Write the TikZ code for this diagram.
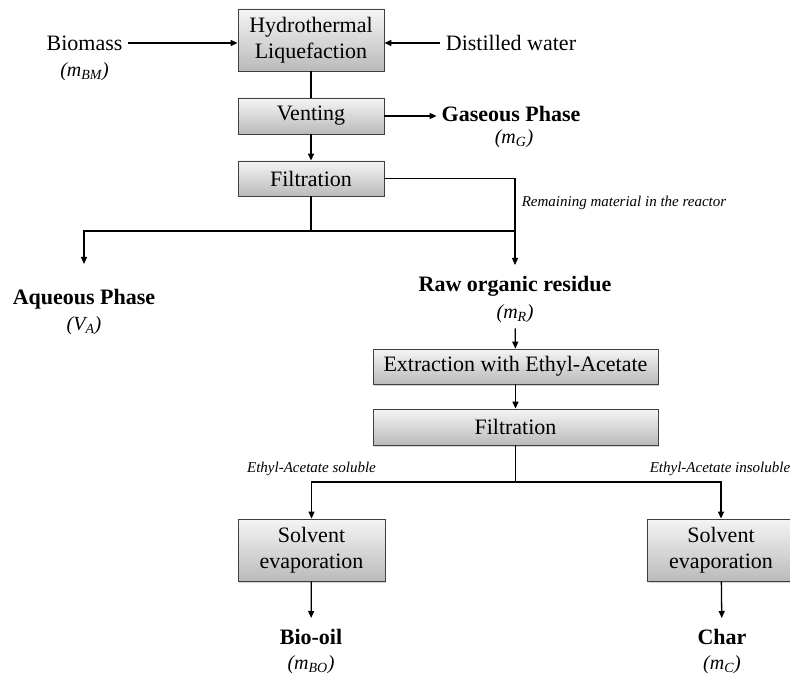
\documentclass[tikz,border=0pt]{standalone}
\usepackage{fontspec}
\setmainfont{Liberation Serif}
\usetikzlibrary{arrows.meta,shadows}

\begin{document}
\begin{tikzpicture}[x=1pt,y=-1pt,line width=1.3pt,
  box/.style={draw=black!75,line width=0.8pt,top color=black!4,bottom color=black!27,
    drop shadow={shadow xshift=1.2pt,shadow yshift=-1.5pt,opacity=0.35},
    align=center,inner sep=0pt,font=\fontsize{22}{26.5}\selectfont},
  feed/.style={inner sep=5pt,font=\fontsize{22}{26}\selectfont},
  product/.style={inner sep=3pt,outer sep=8pt,text height=15pt,text depth=5pt,
    font=\fontsize{22}{26}\selectfont\bfseries},
  mass/.style={inner sep=1pt,outer sep=4pt,text height=14pt,text depth=5pt,
    font=\fontsize{20}{24}\selectfont\itshape},
  note/.style={inner sep=2pt,font=\fontsize{15}{18}\selectfont\itshape},
  arr/.style={-{Triangle[length=7pt,width=6pt]}}]

\useasboundingbox (0,0) rectangle (790,679);
\clip (0,0) rectangle (790,679);

% process steps
\node[box,minimum width=146pt,minimum height=62pt] (htl) at (311,40) {Hydrothermal\\Liquefaction};
\node[box,minimum width=146pt,minimum height=36pt] (vent) at (311,116) {Venting};
\node[box,minimum width=146pt,minimum height=35pt] (filt) at (311,178.5) {Filtration};
\node[box,minimum width=285pt,minimum height=35pt] (extr) at (515.5,366.5) {Extraction with Ethyl-Acetate};
\node[box,minimum width=285pt,minimum height=36pt] (filt2) at (515.5,427) {Filtration};
\node[box,minimum width=147pt,minimum height=62pt] (evapL) at (311.5,550) {Solvent\\evaporation};
\node[box,minimum width=147pt,minimum height=62pt] (evapR) at (721,550) {Solvent\\evaporation};

% inputs and products
\node[feed] (biomass) at (84.5,43) {Biomass};
\node[mass] (biomassm) at (84.5,72) {(m\textsubscript{BM})};
\node[feed] (water) at (511,43) {Distilled water};
\node[product,outer sep=2pt] (gas) at (511,117) {Gaseous Phase};
\node[mass] (gasm) at (514,139) {(m\textsubscript{G})};
\node[note] (rest) at (624,203) {Remaining material in the reactor};
\node[product] (aq) at (84,299) {Aqueous Phase};
\node[mass] (aqm) at (84,326) {(V\textsubscript{A})};
\node[product] (raw) at (515,286) {Raw organic residue};
\node[mass] (rawm) at (515,314) {(m\textsubscript{R})};
\node[note] (sol) at (311.5,469) {Ethyl-Acetate soluble};
\node[note] (insol) at (720,469) {Ethyl-Acetate insoluble};
\node[product] (oil) at (311,639) {Bio-oil};
\node[mass] (oilm) at (311,665) {(m\textsubscript{BO})};
\node[product] (char) at (722,639) {Char};
\node[mass] (charm) at (722,665) {(m\textsubscript{C})};

\coordinate (j1) at (311,231);
\coordinate (j2) at (515.5,482);

\draw[arr] (biomass) -- (biomass -| htl.west);
\draw[arr] (water) -- (water -| htl.east);
\draw (htl) -- (vent);
\draw[arr] (vent) -- (filt);
\draw[arr] (vent.east) -- (vent.east -| gas.west);
\draw[arr] (filt.east) -| (raw.north);
\draw (filt) -- (j1);
\draw (j1) -- (j1 -| raw);
\draw[arr,shorten >=14pt] (j1) -| (aq.north);
\draw[arr] (rawm) -- (extr);
\draw[arr] (extr) -- (filt2);
\draw (filt2) -- (j2);
\draw[arr] (j2) -| (evapL.north);
\draw[arr] (j2) -| (evapR.north);
\draw[arr] (evapL) -- (oil);
\draw[arr] (evapR) -- (char);

\end{tikzpicture}
\end{document}
